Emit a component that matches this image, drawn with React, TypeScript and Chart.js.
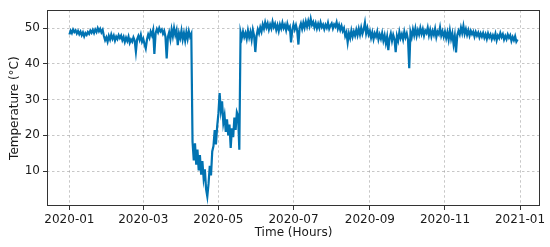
import React, { useEffect, useRef } from "react";
import { Chart, registerables } from "chart.js";

Chart.register(...registerables);

// Daily temperature readings (°C), day 0 = 2020-01-01
const janTemps = [48.2, 49.3, 48.6, 49.6, 48.9, 49.4, 48.5, 49.2, 48.3, 49.0, 48.0, 48.8, 47.7, 48.6, 48.1, 48.9, 48.4, 49.3, 48.7, 49.5, 48.6, 49.6, 48.9, 50.0, 49.1, 49.8, 48.8, 49.5, 47.8, 46.6, 47.4];
const febTemps = [46.2, 47.8, 46.8, 48.2, 47.0, 47.9, 46.5, 47.6, 46.9, 48.0, 47.2, 47.9, 46.6, 47.5, 46.1, 47.3, 46.4, 47.6, 45.9, 46.8, 46.2, 47.4, 46.5, 43.4, 46.9, 47.8, 46.7, 48.1, 46.2];
const marTemps = [47.0, 45.5, 44.3, 46.8, 48.2, 47.3, 49.0, 48.0, 49.4, 42.8, 48.6, 49.7, 48.8, 50.0, 49.1, 49.6, 48.4, 49.2, 47.6, 41.5, 47.5, 48.8, 46.9, 49.6, 47.7, 50.0, 48.1, 49.4, 45.2, 48.5, 47.2];
const aprTemps = [49.3, 46.8, 48.6, 46.5, 48.9, 47.0, 49.1, 47.6, 48.4, 18.2, 13.0, 17.8, 11.8, 16.0, 10.2, 14.5, 9.0, 12.8, 8.0, 10.5, 5.0, 2.9, 6.5, 11.5, 8.8, 15.5, 17.0, 21.5, 17.5, 22.5];
const mayTemps = [26.0, 31.8, 27.0, 29.5, 23.5, 25.5, 21.0, 24.5, 20.0, 23.0, 16.5, 22.0, 19.5, 25.0, 21.5, 26.5, 25.5, 16.0, 48.8, 47.2, 49.0, 47.5, 48.6, 47.0, 49.3, 47.4, 48.9, 46.8, 49.5, 47.9, 43.3];
const junTemps = [47.8, 49.6, 48.5, 50.2, 49.0, 51.0, 49.8, 51.6, 50.2, 51.3, 49.6, 51.0, 49.9, 51.8, 50.3, 51.2, 49.5, 50.8, 49.2, 51.0, 49.9, 51.5, 50.0, 50.9, 49.4, 51.2, 49.8, 50.4, 46.0, 49.5];
const julTemps = [51.0, 49.6, 50.8, 49.3, 45.4, 50.2, 51.3, 49.8, 51.5, 50.1, 51.8, 50.4, 52.0, 50.6, 52.6, 50.9, 51.7, 50.2, 51.4, 49.9, 51.2, 50.0, 51.6, 50.3, 51.0, 49.7, 50.9, 50.1, 51.5, 49.8, 50.7];
const augTemps = [51.3, 49.9, 51.0, 50.4, 51.6, 49.8, 50.9, 49.5, 50.6, 49.2, 50.0, 47.8, 48.8, 46.0, 48.5, 47.2, 49.3, 47.6, 49.0, 47.9, 49.5, 48.0, 49.8, 48.2, 50.1, 48.4, 49.6, 51.5, 48.5, 50.0, 48.2];
const sepTemps = [49.2, 47.3, 48.8, 46.9, 48.5, 47.6, 49.0, 46.8, 48.2, 47.0, 48.6, 46.5, 48.0, 45.8, 47.6, 43.8, 47.2, 48.5, 46.4, 48.1, 46.9, 43.3, 47.8, 46.5, 48.9, 47.2, 48.3, 46.8, 49.0, 47.4];
const octTemps = [48.5, 46.8, 38.8, 48.9, 47.5, 49.6, 48.0, 49.9, 47.8, 49.4, 48.2, 50.0, 48.4, 49.7, 47.9, 49.3, 48.6, 50.1, 48.0, 49.5, 47.7, 49.2, 48.1, 49.8, 47.5, 49.0, 48.3, 50.2, 47.9, 49.1, 47.6];
const novTemps = [49.0, 47.2, 48.8, 46.8, 49.3, 47.0, 48.5, 45.5, 47.8, 43.2, 48.0, 49.2, 48.2, 50.1, 48.6, 50.6, 48.4, 49.7, 48.1, 49.4, 47.9, 49.2, 48.3, 49.0, 47.6, 48.9, 47.9, 48.7, 47.4, 48.5];
const decTemps = [47.6, 48.6, 47.3, 48.3, 47.0, 48.5, 47.4, 48.2, 46.9, 48.0, 47.1, 48.4, 46.6, 47.9, 47.2, 48.6, 47.5, 48.3, 46.8, 47.8, 46.9, 48.2, 47.3, 48.0, 46.4, 47.5, 46.6, 47.7, 46.2, 46.8];

const temperatures = [
  ...janTemps, ...febTemps, ...marTemps, ...aprTemps, ...mayTemps, ...junTemps,
  ...julTemps, ...augTemps, ...sepTemps, ...octTemps, ...novTemps, ...decTemps,
];

// x ticks: days since 2020-01-01
const xTickDays = [0, 60, 121, 182, 244, 305, 366];
const xTickLabels = ["2020-01", "2020-03", "2020-05", "2020-07", "2020-09", "2020-11", "2021-01"];
const yTickValues = [10, 20, 30, 40, 50];

const lineColor = "#0173b2";

const framePlugin = {
  id: "frame",
  afterDraw(chart: any) {
    const { ctx, chartArea } = chart;
    ctx.save();
    ctx.strokeStyle = "#333333";
    ctx.lineWidth = 1;
    ctx.setLineDash([]);
    ctx.strokeRect(
      Math.round(chartArea.left) + 0.5,
      Math.round(chartArea.top) + 0.5,
      Math.round(chartArea.right - chartArea.left) - 1,
      Math.round(chartArea.bottom - chartArea.top) - 1
    );
    ctx.restore();
  },
};

export default function App() {
  const ref = useRef<HTMLCanvasElement | null>(null);

  useEffect(() => {
    if (!ref.current) return;
    const points = temperatures.map((v, i) => ({ x: i, y: v }));
    const font = { family: "DejaVu Sans", size: 12 };
    const chart = new Chart(ref.current, {
      type: "line",
      data: {
        datasets: [
          {
            data: points,
            borderColor: lineColor,
            borderWidth: 2.2,
            pointRadius: 0,
            tension: 0,
            fill: false,
          },
        ],
      },
      options: {
        animation: false,
        responsive: false,
        devicePixelRatio: 1,
        parsing: false,
        layout: { padding: { top: 10, right: 10, bottom: 0, left: 0 } },
        plugins: { legend: { display: false }, tooltip: { enabled: false } },
        scales: {
          x: {
            type: "linear",
            min: -18.2,
            max: 382.2,
            afterBuildTicks: (s: any) => {
              s.ticks = xTickDays.map((v) => ({ value: v }));
            },
            afterFit: (s: any) => {
              s.height = 41;
            },
            ticks: {
              color: "#1a1a1a",
              font,
              padding: 3,
              maxRotation: 0,
              autoSkip: false,
              callback: (v: any) => {
                const i = xTickDays.indexOf(Number(v));
                return i >= 0 ? xTickLabels[i] : "";
              },
            },
            grid: {
              color: "rgba(0,0,0,0.28)",
              lineWidth: 0.8,
              drawTicks: true,
              tickLength: 4,
              tickColor: "#333",
              tickWidth: 1,
              tickBorderDash: [],
            },
            border: { display: false, dash: [2.5, 2.5] },
            title: {
              display: true,
              text: "Time (Hours)",
              color: "#1a1a1a",
              font,
              padding: { top: 0, bottom: 7 },
            },
          },
          y: {
            type: "linear",
            min: 0.25,
            max: 55,
            afterBuildTicks: (s: any) => {
              s.ticks = yTickValues.map((v) => ({ value: v }));
            },
            afterFit: (s: any) => {
              s.width = 47;
            },
            ticks: { color: "#1a1a1a", font, padding: 3 },
            grid: {
              color: "rgba(0,0,0,0.28)",
              lineWidth: 0.8,
              drawTicks: true,
              tickLength: 4,
              tickColor: "#333",
              tickWidth: 1,
              tickBorderDash: [],
            },
            border: { display: false, dash: [2.5, 2.5] },
            title: {
              display: true,
              text: "Temperature (°C)",
              color: "#1a1a1a",
              font,
              padding: { top: 8, bottom: 0 },
            },
          },
        },
      },
      plugins: [framePlugin],
    } as any);
    return () => chart.destroy();
  }, []);

  return (
    <div style={{ position: "absolute", left: 0, top: 0, width: 550, height: 247, background: "#fff" }}>
      <canvas ref={ref} width={550} height={247} style={{ width: 550, height: 247, display: "block" }} />
    </div>
  );
}
